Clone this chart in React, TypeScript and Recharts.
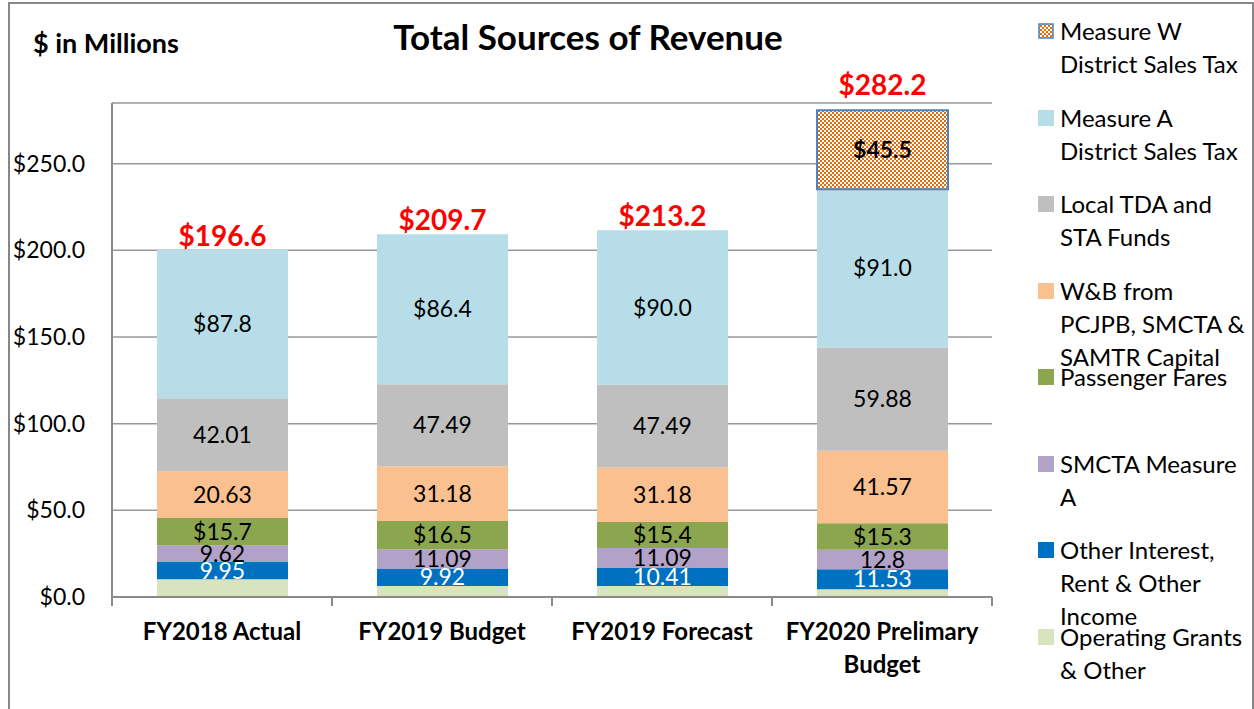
import React from 'react';
import { BarChart, Bar, XAxis, YAxis, CartesianGrid, LabelList } from 'recharts';

const categories = ['FY2018 Actual', 'FY2019 Budget', 'FY2019 Forecast', 'FY2020 Prelimary Budget'];

// segment heights as drawn, $ in millions
const operatingGrants = [10.2, 6.4, 6.3, 4.5];
const otherIncome = [10.0, 10.0, 10.4, 11.5];
const smctaMeasureA = [9.6, 11.1, 11.6, 11.3];
const passengerFares = [15.8, 16.4, 15.0, 15.2];
const wbCapital = [26.9, 31.5, 31.4, 41.9];
const localTda = [42.1, 47.3, 47.8, 59.6];
const measureA = [85.8, 86.6, 89.1, 91.3];
const measureW = [0, 0, 0, 45.5];

// printed labels
const otherIncomeLabels = ['9.95', '9.92', '10.41', '11.53'];
const smctaLabels = ['9.62', '11.09', '11.09', '12.8'];
const faresLabels = ['$15.7', '$16.5', '$15.4', '$15.3'];
const wbLabels = ['20.63', '31.18', '31.18', '41.57'];
const tdaLabels = ['42.01', '47.49', '47.49', '59.88'];
const measureALabels = ['$87.8', '$86.4', '$90.0', '$91.0'];
const measureWLabels = [null, null, null, '$45.5'];
const totalLabels = ['$196.6', '$209.7', '$213.2', '$282.2'];

const yTicks = [0, 50, 100, 150, 200, 250];

const FONT = 'Lato, "Open Sans", sans-serif';
const AXIS = '#8a8a8a';

const series = [
  { key: 'measureW', name: 'Measure W\nDistrict Sales Tax', color: 'url(#checker)' },
  { key: 'measureA', name: 'Measure A\nDistrict Sales Tax', color: '#b7dde8' },
  { key: 'tda', name: 'Local TDA and\nSTA Funds', color: '#bfbfbf' },
  { key: 'wb', name: 'W&B from\nPCJPB, SMCTA &\nSAMTR Capital', color: '#fac090' },
  { key: 'fares', name: 'Passenger Fares', color: '#8ba64f' },
  { key: 'smcta', name: 'SMCTA Measure\nA', color: '#b2a2c7' },
  { key: 'other', name: 'Other Interest,\nRent & Other\nIncome', color: '#0070c0' },
  { key: 'grants', name: 'Operating Grants\n& Other', color: '#d7e4bd' },
];

const data = categories.map((name, i) => ({
  name,
  grants: operatingGrants[i],
  other: otherIncome[i],
  smcta: smctaMeasureA[i],
  fares: passengerFares[i],
  wb: wbCapital[i],
  tda: localTda[i],
  measureA: measureA[i],
  measureW: measureW[i],
  otherLbl: otherIncomeLabels[i],
  smctaLbl: smctaLabels[i],
  faresLbl: faresLabels[i],
  wbLbl: wbLabels[i],
  tdaLbl: tdaLabels[i],
  measureALbl: measureALabels[i],
  measureWLbl: measureWLabels[i],
  // total sits on top of the highest segment
  totalA: measureW[i] ? null : totalLabels[i],
  totalW: measureW[i] ? totalLabels[i] : null,
}));

const CategoryTick = (props: any) => {
  const { x, y, payload, index } = props;
  const half = payload.offset ?? 110;
  const words = String(payload.value).split(' ');
  const lines = words.length > 2 ? [words.slice(0, -1).join(' '), words[words.length - 1]] : [String(payload.value)];
  return (
    <g>
      <line x1={x - half} x2={x - half} y1={y} y2={y + 9} stroke={AXIS} strokeWidth={2} />
      {index === categories.length - 1 && (
        <line x1={x + half} x2={x + half} y1={y} y2={y + 9} stroke={AXIS} strokeWidth={2} />
      )}
      <text x={x} y={y + 43} textAnchor="middle" fill="#000" style={{ fontFamily: FONT, fontWeight: 700, fontSize: 24 }}>
        {lines.map((l, k) => (
          <tspan key={k} x={x} dy={k === 0 ? 0 : 33}>
            {l}
          </tspan>
        ))}
      </text>
    </g>
  );
};

const segLabel = { fontFamily: FONT, fontSize: 23 };

export default function App() {
  return (
    <div style={{ position: 'absolute', left: 0, top: 0, width: 1254, height: 709, overflow: 'hidden', background: '#fff', fontFamily: FONT }}>
      <div style={{ position: 'absolute', left: 8, top: 2, width: 1242, height: 720, border: '2px solid #878787' }} />
      <div style={{ position: 'absolute', left: 33, top: 26, fontSize: 27, fontWeight: 700, color: '#000' }}>$ in Millions</div>
      <div style={{ position: 'absolute', left: 288, width: 600, top: 15, textAlign: 'center', fontSize: 35, fontWeight: 700, color: '#000' }}>
        Total Sources of Revenue
      </div>

      <BarChart width={1254} height={709} data={data} margin={{ top: 103, right: 262, bottom: 0, left: 0 }} style={{ position: 'absolute', left: 0, top: 0 }}>
        <defs>
          <pattern id="checker" width={4} height={4} patternUnits="userSpaceOnUse">
            <rect width={4} height={4} fill="#ffffff" />
            <rect x={0} y={0} width={2} height={2} fill="#e46c0a" />
            <rect x={2} y={2} width={2} height={2} fill="#e46c0a" />
          </pattern>
        </defs>
        <CartesianGrid vertical={false} stroke="#999" strokeWidth={1.5} />
        <XAxis
          dataKey="name"
          height={112}
          axisLine={{ stroke: AXIS, strokeWidth: 2 }}
          tickLine={false}
          tickSize={0}
          tickMargin={0}
          interval={0}
          tick={<CategoryTick />}
        />
        <YAxis
          width={112}
          domain={[0, 285]}
          ticks={yTicks}
          tickFormatter={(v: number) => `$${v.toFixed(1)}`}
          axisLine={{ stroke: AXIS, strokeWidth: 2 }}
          tickLine={false}
          tickSize={0}
          tickMargin={27}
          tick={{ fill: '#000', fontSize: 23, fontFamily: FONT }}
        />
        <Bar dataKey="grants" stackId="s" fill="#d7e4bd" barSize={131} isAnimationActive={false} />
        <Bar dataKey="other" stackId="s" fill="#0070c0" barSize={131} isAnimationActive={false}>
          <LabelList dataKey="otherLbl" position="center" fill="#fff" {...segLabel} />
        </Bar>
        <Bar dataKey="smcta" stackId="s" fill="#b2a2c7" barSize={131} isAnimationActive={false}>
          <LabelList dataKey="smctaLbl" position="center" fill="#000" {...segLabel} />
        </Bar>
        <Bar dataKey="fares" stackId="s" fill="#8ba64f" barSize={131} isAnimationActive={false}>
          <LabelList dataKey="faresLbl" position="center" fill="#000" {...segLabel} />
        </Bar>
        <Bar dataKey="wb" stackId="s" fill="#fac090" barSize={131} isAnimationActive={false}>
          <LabelList dataKey="wbLbl" position="center" fill="#000" {...segLabel} />
        </Bar>
        <Bar dataKey="tda" stackId="s" fill="#bfbfbf" barSize={131} isAnimationActive={false}>
          <LabelList dataKey="tdaLbl" position="center" fill="#000" {...segLabel} />
        </Bar>
        <Bar dataKey="measureA" stackId="s" fill="#b7dde8" barSize={131} isAnimationActive={false}>
          <LabelList dataKey="measureALbl" position="center" fill="#000" {...segLabel} />
          <LabelList dataKey="totalA" position="top" offset={4} fill="#ff0000" fontWeight={700} fontSize={28} fontFamily={FONT} />
        </Bar>
        <Bar dataKey="measureW" stackId="s" fill="url(#checker)" stroke="#4f81bd" strokeWidth={2} barSize={131} isAnimationActive={false}>
          <LabelList dataKey="measureWLbl" position="center" fill="#000" fontWeight={700} {...segLabel} />
          <LabelList dataKey="totalW" position="top" offset={15} fill="#ff0000" fontWeight={700} fontSize={28} fontFamily={FONT} />
        </Bar>
      </BarChart>

      <div style={{ position: 'absolute', left: 1038, top: 14, width: 216 }}>
        {series.map((s) => (
          <div key={s.key} style={{ height: 86.5, display: 'flex', alignItems: 'flex-start', overflow: 'visible' }}>
            <svg width={16} height={16} style={{ marginTop: 9, marginRight: 6, flex: 'none' }}>
              <rect
                x={s.key === 'measureW' ? 1 : 0}
                y={s.key === 'measureW' ? 1 : 0}
                width={s.key === 'measureW' ? 14 : 16}
                height={s.key === 'measureW' ? 14 : 16}
                fill={s.key === 'measureW' ? 'url(#checker)' : s.color}
                stroke={s.key === 'measureW' ? '#4f81bd' : 'none'}
                strokeWidth={s.key === 'measureW' ? 1.5 : 0}
              />
            </svg>
            <div style={{ fontSize: 24, lineHeight: '33px', color: '#000', whiteSpace: 'pre' }}>{s.name}</div>
          </div>
        ))}
      </div>
    </div>
  );
}
